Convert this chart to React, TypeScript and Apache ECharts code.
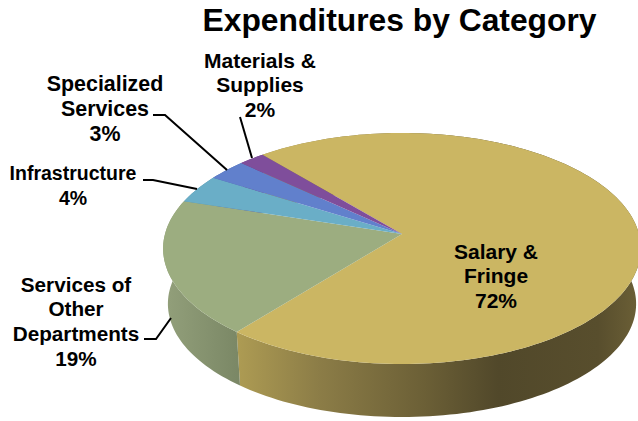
import React, { useEffect, useRef } from "react";
import * as echarts from "echarts";

const titleText = "Expenditures by Category";
const categories = ["Salary & Fringe", "Services of Other Departments", "Infrastructure", "Specialized Services", "Materials & Supplies"];
const shares = [72, 19, 4, 3, 2];
const topColors = ["#CBB663", "#9CAD80", "#6AAEC7", "#6180CC", "#7F4E9B"];

const labelLines = [
  "Salary &\nFringe",
  "Services of\nOther\nDepartments",
  "Infrastructure",
  "Specialized\nServices",
  "Materials &\nSupplies",
];
const labelAnchors: [number, number][] = [
  [496, 239],
  [76, 272],
  [73, 161],
  [105, 72],
  [260, 48],
];
const labelSizes = [21, 20.7, 19.5, 21.4, 21];
const leaders: [number, number][][] = [
  [[144, 339], [156, 339], [171, 318]],
  [[143, 180], [153, 180], [197, 189]],
  [[153, 115], [165, 115], [227, 170]],
  [[240, 117], [252, 158]],
];

const START_DEG = -40.2;
const APEX_X = 402;
const APEX_Y = 234;
const RX = 237;
const RY = 113.7;
const PERSP = 0.1256;
const LOWER_SCALE = 0.98;
const LOWER_APEX_Y = 289.6;

const total = shares.reduce((a, b) => a + b, 0);
const startOf = (i: number) => START_DEG + (shares.slice(0, i).reduce((a, b) => a + b, 0) / total) * 360;

function project(deg: number, lower: boolean): number[] {
  const t = (deg * Math.PI) / 180;
  const u = Math.sin(t);
  const v = -Math.cos(t);
  const w = 1 / (1 - PERSP * v);
  const s = lower ? LOWER_SCALE : 1;
  const y0 = lower ? LOWER_APEX_Y : APEX_Y;
  return [APEX_X + RX * s * u * w, y0 + RY * s * v * w];
}

function arcPoints(a0: number, a1: number, lower: boolean): number[][] {
  const n = Math.max(4, Math.ceil(Math.abs(a1 - a0) / 1.5));
  const out: number[][] = [];
  for (let i = 0; i <= n; i++) out.push(project(a0 + ((a1 - a0) * i) / n, lower));
  return out;
}

const wallFills = [
  new echarts.graphic.LinearGradient(238, 0, 638, 0, [
    { offset: 0, color: "#AD9B53" },
    { offset: 0.2, color: "#8C7D47" },
    { offset: 0.47, color: "#6B5F36" },
    { offset: 0.65, color: "#51482A" },
    { offset: 0.9, color: "#584E2D" },
    { offset: 1, color: "#6B5F36" },
  ], true),
  new echarts.graphic.LinearGradient(163, 0, 240, 0, [
    { offset: 0, color: "#93A07B" },
    { offset: 1, color: "#7A8765" },
  ], true),
  "#5E93A8",
  "#526EAE",
  "#6C4285",
];

export default function App() {
  const ref = useRef<HTMLDivElement>(null);
  useEffect(() => {
    document.body.style.margin = "0";
    const chart = echarts.init(ref.current!, undefined, { renderer: "svg" });
    const font = "'Liberation Sans', Arial, sans-serif";
    const data = shares.map((v, i) => ({ name: categories[i], value: v }));
    chart.setOption({
      animation: false,
      backgroundColor: "#FFFFFF",
      title: {
        text: titleText,
        left: 394.5,
        textAlign: "center",
        top: -1,
        textStyle: { fontFamily: font, fontWeight: "bold", fontSize: 31.8, color: "#000" },
      },
      series: [
        {
          type: "custom",
          coordinateSystem: "none",
          silent: true,
          data,
          renderItem: (params: any, api: any) => {
            const i = params.dataIndex;
            const a0 = startOf(i);
            const a1 = a0 + (api.value(0) / total) * 360;
            const pts = [...arcPoints(a0, a1, false), ...arcPoints(a1, a0, true)];
            return { type: "polygon", shape: { points: pts }, style: { fill: wallFills[i] } };
          },
        },
        {
          type: "custom",
          coordinateSystem: "none",
          silent: true,
          data,
          renderItem: (params: any, api: any) => {
            const i = params.dataIndex;
            const a0 = startOf(i);
            const a1 = a0 + (api.value(0) / total) * 360;
            const pts = [[APEX_X, APEX_Y], ...arcPoints(a0, a1, false)];
            return { type: "polygon", shape: { points: pts }, style: { fill: topColors[i] } };
          },
        },
      ],
      graphic: [
        ...leaders.map((points) => ({
          type: "polyline",
          z: 10,
          shape: { points },
          style: { stroke: "#000", lineWidth: 2, fill: "none" },
        })),
        ...labelLines.map((t, i) => ({
          type: "text",
          z: 11,
          x: labelAnchors[i][0],
          y: labelAnchors[i][1],
          style: {
            text: `${t}\n${shares[i]}%`,
            align: "center",
            verticalAlign: "top",
            fontFamily: font,
            fontWeight: "bold",
            fontSize: labelSizes[i],
            lineHeight: 24.6,
            fill: "#000",
          },
        })),
      ],
    });
    return () => chart.dispose();
  }, []);
  return <div ref={ref} style={{ position: "fixed", left: 0, top: 0, width: 638, height: 421 }} />;
}
